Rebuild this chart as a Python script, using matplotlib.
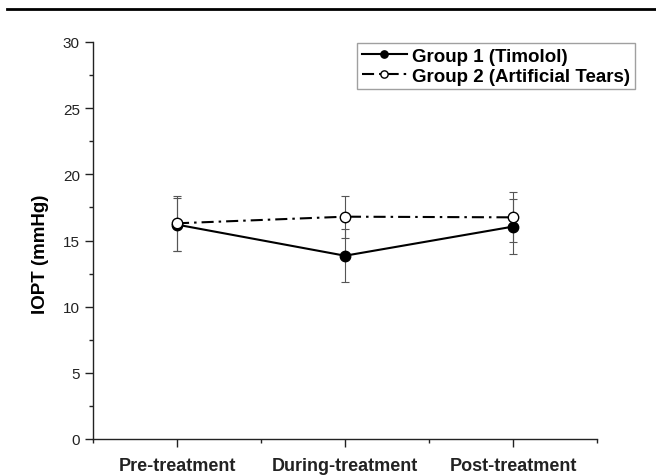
import numpy as np
import matplotlib.pyplot as plt
from matplotlib.lines import Line2D
from matplotlib.ticker import MultipleLocator, FixedLocator

plt.rcParams['font.family'] = ['Liberation Sans', 'DejaVu Sans']

# Данные
categories = ["Pre-treatment", "During-treatment", "Post-treatment"]
g1_mean = [16.2, 13.85, 16.05]
g1_sd = [2.0, 2.0, 2.05]
g2_mean = [16.3, 16.8, 16.75]
g2_sd = [2.1, 1.6, 1.9]

x = np.arange(1, len(categories) + 1)

fig = plt.figure(figsize=(6.56, 4.77), dpi=100)
ax = fig.add_axes([93 / 656, 1 - 440 / 477, 504 / 656, 397 / 477])

# Линия сверху страницы
fig.add_artist(Line2D([7 / 656, 1.0], [1 - 10 / 477, 1 - 10 / 477],
                      color='black', lw=2, transform=fig.transFigure))

ax.errorbar(x, g1_mean, yerr=g1_sd, fmt='none', ecolor='#555555',
            elinewidth=0.8, capsize=3.2, capthick=0.8, zorder=1)
ax.errorbar(x, g2_mean, yerr=g2_sd, fmt='none', ecolor='#555555',
            elinewidth=0.8, capsize=3.2, capthick=0.8, zorder=1)

ax.plot(x, g1_mean, '-', color='black', lw=1.5, marker='o', ms=7.5,
        mfc='black', mec='black', label='Group 1 (Timolol)', zorder=3)
ax.plot(x, g2_mean, color='black', lw=1.5, dashes=(5.8, 2.4, 1.2, 2.4),
        marker='o', ms=7.5, mfc='white', mec='black', mew=1,
        label='Group 2 (Artificial Tears)', zorder=3)

ax.set_xlim(0.5, 3.5)
ax.set_ylim(0, 30)
ax.set_xticks(x)
ax.set_xticklabels(categories, fontsize=13, fontweight='bold')
ax.xaxis.set_minor_locator(FixedLocator([0.5, 1.5, 2.5, 3.5]))
ax.yaxis.set_major_locator(MultipleLocator(5))
ax.yaxis.set_minor_locator(MultipleLocator(2.5))
ax.tick_params(axis='both', which='major', direction='out', length=5.8,
               width=1, colors='#222222', labelsize=11, pad=3.6)
ax.tick_params(axis='both', which='minor', direction='out', length=3.2,
               width=1, colors='#222222')
ax.tick_params(axis='x', which='major', pad=7.5, labelsize=13)

for side in ['top', 'right']:
    ax.spines[side].set_visible(False)
for side in ['left', 'bottom']:
    ax.spines[side].set_color('#222222')
    ax.spines[side].set_linewidth(1)

ax.set_ylabel("IOPT (mmHg)", fontsize=13.5, fontweight='bold')
ax.yaxis.set_label_coords(-0.088, 0.468)

leg = ax.legend(loc='upper right', bbox_to_anchor=(635 / 656, 1 - 44 / 477),
                bbox_transform=fig.transFigure,
                prop={'weight': 'bold', 'size': 13.5}, fancybox=False,
                edgecolor='#888888', handlelength=2.4, handletextpad=0.3,
                borderpad=0.25, labelspacing=0.15, borderaxespad=0,
                markerscale=0.7)
leg.get_frame().set_linewidth(1)

plt.savefig("out.png", dpi=100)
